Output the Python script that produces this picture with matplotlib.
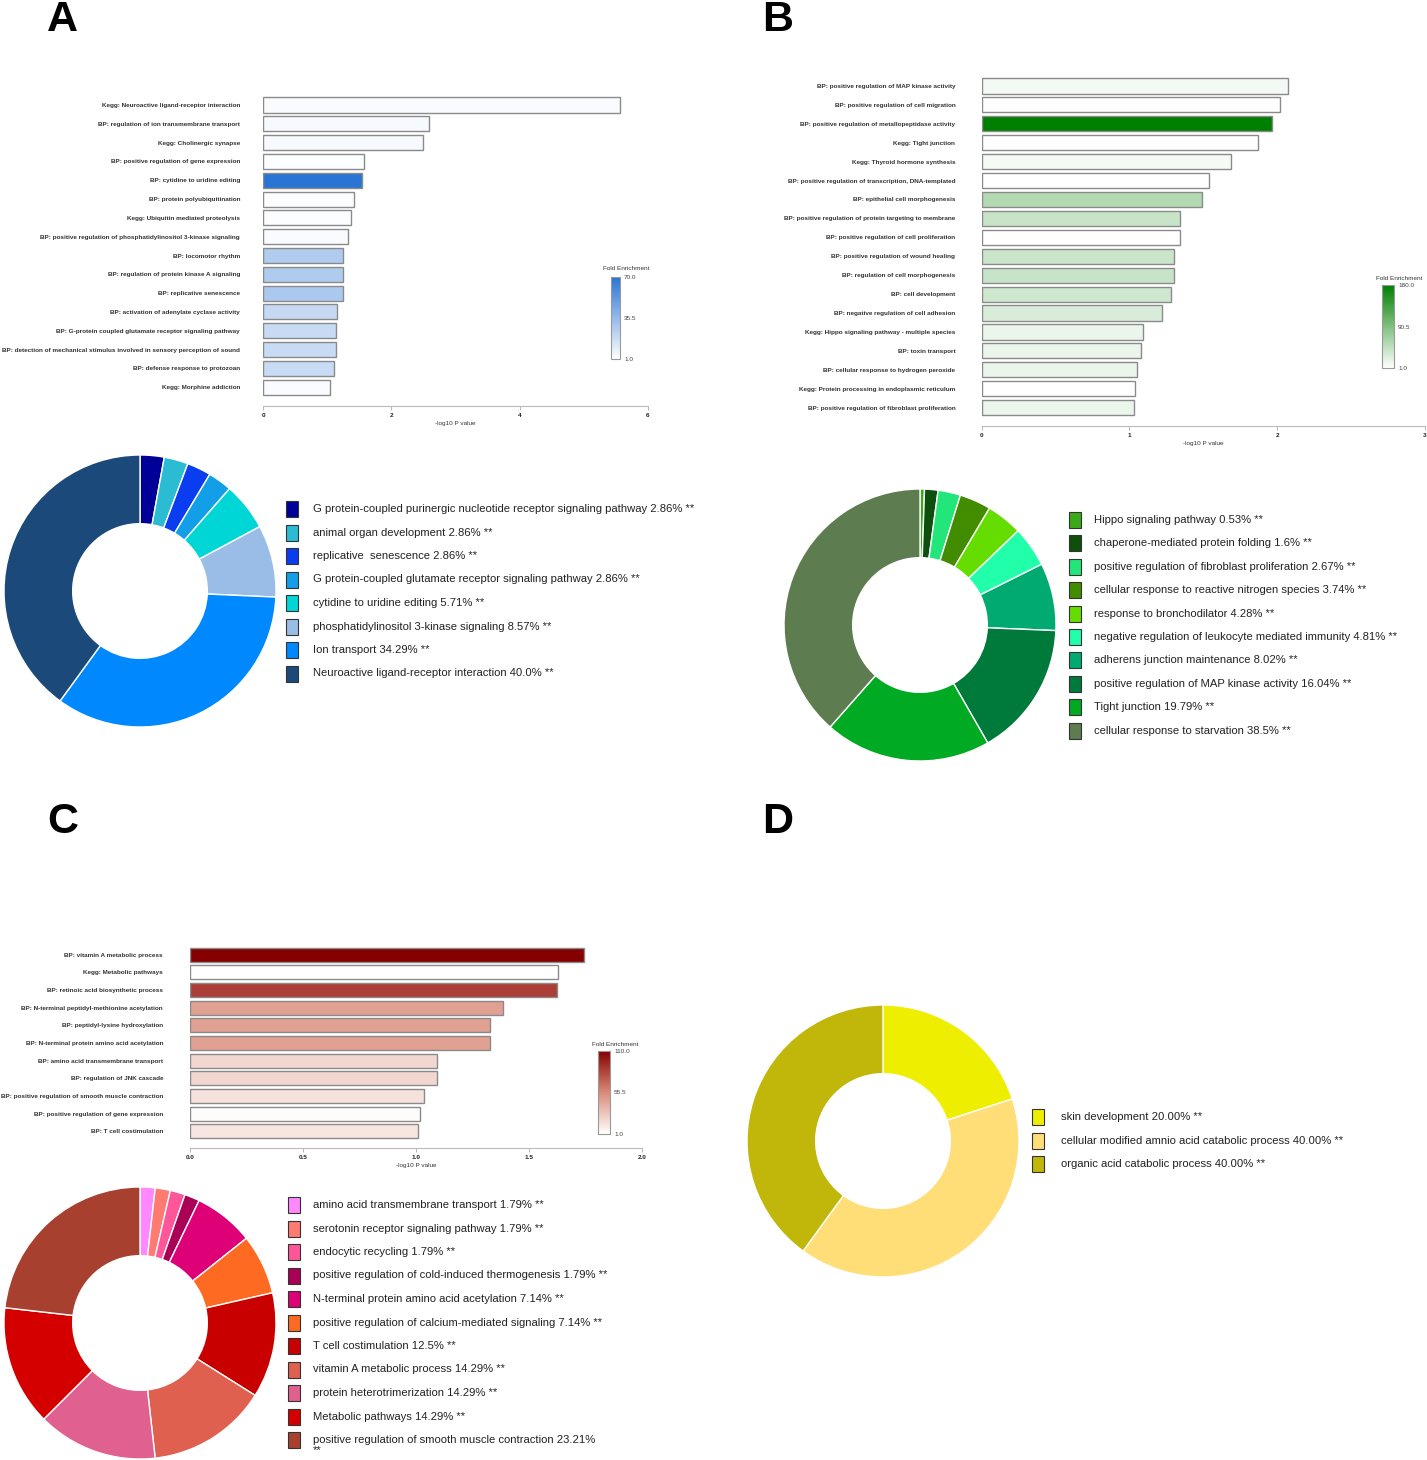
import matplotlib
matplotlib.use("Agg")
import matplotlib.pyplot as plt
from matplotlib.colors import LinearSegmentedColormap, Normalize
from matplotlib.cm import ScalarMappable
from matplotlib.patches import Rectangle

plt.rcParams["font.family"] = ["Liberation Sans", "DejaVu Sans"]

W, H = 1427, 1460

#######################################################################
# panel A data
a_terms = [
    "Kegg: Neuroactive ligand-receptor interaction",
    "BP: regulation of ion transmembrane transport",
    "Kegg: Cholinergic synapse",
    "BP: positive regulation of gene expression",
    "BP: cytidine to uridine editing",
    "BP: protein polyubiquitination",
    "Kegg: Ubiquitin mediated proteolysis",
    "BP: positive regulation of phosphatidylinositol 3-kinase signaling",
    "BP: locomotor rhythm",
    "BP: regulation of protein kinase A signaling",
    "BP: replicative senescence",
    "BP: activation of adenylate cyclase activity",
    "BP: G-protein coupled glutamate receptor signaling pathway",
    "BP: detection of mechanical stimulus involved in sensory perception of sound",
    "BP: defense response to protozoan",
    "Kegg: Morphine addiction",
]
a_logp = [5.56, 2.58, 2.49, 1.58, 1.55, 1.42, 1.37, 1.32, 1.25, 1.25, 1.25,
          1.16, 1.13, 1.13, 1.10, 1.05]
a_fold = [3, 4, 4, 2, 70, 2, 2, 3, 27, 27, 28, 20, 19, 19, 19, 3]
a_fold_max = 70.0

a_pie_names = [
    "G protein-coupled purinergic nucleotide receptor signaling pathway",
    "animal organ development",
    "replicative  senescence",
    "G protein-coupled glutamate receptor signaling pathway",
    "cytidine to uridine editing",
    "phosphatidylinositol 3-kinase signaling",
    "Ion transport",
    "Neuroactive ligand-receptor interaction",
]
a_pie_pct = ["2.86", "2.86", "2.86", "2.86", "5.71", "8.57", "34.29", "40.0"]
a_pie_colors = ["#000099", "#2bbcd4", "#0a3cf0", "#139fe8", "#00d6d6",
                "#99bde6", "#0088ff", "#1b4a7a"]

#######################################################################
# panel B data
b_terms = [
    "BP: positive regulation of MAP kinase activity",
    "BP: positive regulation of cell migration",
    "BP: positive regulation of metallopeptidase activity",
    "Kegg: Tight junction",
    "Kegg: Thyroid hormone synthesis",
    "BP: positive regulation of transcription, DNA-templated",
    "BP: epithelial cell morphogenesis",
    "BP: positive regulation of protein targeting to membrane",
    "BP: positive regulation of cell proliferation",
    "BP: positive regulation of wound healing",
    "BP: regulation of cell morphogenesis",
    "BP: cell development",
    "BP: negative regulation of cell adhesion",
    "Kegg: Hippo signaling pathway - multiple species",
    "BP: toxin transport",
    "BP: cellular response to hydrogen peroxide",
    "Kegg: Protein processing in endoplasmic reticulum",
    "BP: positive regulation of fibroblast proliferation",
]
b_logp = [2.07, 2.02, 1.965, 1.87, 1.685, 1.54, 1.49, 1.345, 1.345, 1.30,
          1.30, 1.28, 1.22, 1.09, 1.08, 1.05, 1.04, 1.03]
b_fold = [10, 3, 180, 2, 8, 2, 55, 40, 2, 38, 40, 35, 28, 15, 15, 15, 2, 15]
b_fold_max = 180.0

b_pie_names = [
    "Hippo signaling pathway",
    "chaperone-mediated protein folding",
    "positive regulation of fibroblast proliferation",
    "cellular response to reactive nitrogen species",
    "response to bronchodilator",
    "negative regulation of leukocyte mediated immunity",
    "adherens junction maintenance",
    "positive regulation of MAP kinase activity",
    "Tight junction",
    "cellular response to starvation",
]
b_pie_pct = ["0.53", "1.6", "2.67", "3.74", "4.28", "4.81", "8.02", "16.04",
             "19.79", "38.5"]
b_pie_colors = ["#3aaa18", "#0e4f0e", "#22e67a", "#428c00", "#66dd00",
                "#22ffaa", "#00aa70", "#007a3a", "#00aa22", "#5d7d50"]

#######################################################################
# panel C data
c_terms = [
    "BP: vitamin A metabolic process",
    "Kegg: Metabolic pathways",
    "BP: retinoic acid biosynthetic process",
    "BP: N-terminal peptidyl-methionine acetylation",
    "BP: peptidyl-lysine hydroxylation",
    "BP: N-terminal protein amino acid acetylation",
    "BP: amino acid transmembrane transport",
    "BP: regulation of JNK cascade",
    "BP: positive regulation of smooth muscle contraction",
    "BP: positive regulation of gene expression",
    "BP: T cell costimulation",
]
c_logp = [1.746, 1.631, 1.624, 1.385, 1.327, 1.327, 1.092, 1.092, 1.036,
          1.02, 1.011]
c_fold = [110, 1, 85, 45, 45, 45, 20, 20, 15, 3, 13]
c_fold_max = 110.0

c_pie_names = [
    "amino acid transmembrane transport",
    "serotonin receptor signaling pathway",
    "endocytic recycling",
    "positive regulation of cold-induced thermogenesis",
    "N-terminal protein amino acid acetylation",
    "positive regulation of calcium-mediated signaling",
    "T cell costimulation",
    "vitamin A metabolic process",
    "protein heterotrimerization",
    "Metabolic pathways",
    "positive regulation of smooth muscle contraction",
]
c_pie_pct = ["1.79", "1.79", "1.79", "1.79", "7.14", "7.14", "12.5", "14.29",
             "14.29", "14.29", "23.21"]
c_pie_colors = ["#ff88ff", "#ff7a70", "#ff5599", "#aa0055", "#dd0077",
                "#ff6a22", "#c80000", "#e06050", "#e06090", "#d40000",
                "#a84030"]

#######################################################################
# panel D data
d_pie_names = [
    "skin development",
    "cellular modified amnio acid catabolic process",
    "organic acid catabolic process",
]
d_pie_pct = ["20.00", "40.00", "40.00"]
d_pie_colors = ["#eeee00", "#ffdd77", "#c0b70a"]

#######################################################################
blue_cmap = LinearSegmentedColormap.from_list("b", ["#ffffff", "#2a75d3"])
green_cmap = LinearSegmentedColormap.from_list("g", ["#ffffff", "#008000"])
red_cmap = LinearSegmentedColormap.from_list("r", ["#ffffff", "#d98a78", "#850000"])

fig = plt.figure(figsize=(W / 100, H / 100), dpi=100)


def px_axes(x0, y0, x1, y1):
    return fig.add_axes([x0 / W, 1 - y1 / H, (x1 - x0) / W, (y1 - y0) / H])


def bar_panel(box, terms, logp, fold, fmax, cmap, xmax, xticks, ybottom, pad):
    ax = px_axes(*box)
    n = len(terms)
    norm = Normalize(1, fmax)
    ax.barh(range(n), logp, height=0.8, color=cmap(norm(fold)),
            edgecolor="#8a8a8a", linewidth=1)
    ax.set_xlim(0, xmax)
    ax.set_ylim(ybottom, -0.5)
    ax.set_yticks(range(n))
    ax.set_yticklabels(terms, fontsize=4.6, fontweight="bold", color="#333333")
    ax.tick_params(axis="y", length=0, pad=pad)
    ax.set_xticks(xticks)
    ax.tick_params(axis="x", length=3, width=0.6, color="#aaaaaa",
                   labelsize=4.6, labelcolor="#222222", pad=2)
    for t in ax.get_xticklabels():
        t.set_fontweight("bold")
    ax.set_xlabel("-log10 P value", fontsize=4.6, color="#333333", labelpad=2)
    for s in ["top", "right", "left"]:
        ax.spines[s].set_visible(False)
    ax.spines["bottom"].set_color("#bbbbbb")
    ax.spines["bottom"].set_linewidth(0.8)
    return ax


def colorbar_panel(box, cmap, fmax, title_xy):
    cax = px_axes(*box)
    cb = fig.colorbar(ScalarMappable(Normalize(1, fmax), cmap), cax=cax)
    ticks = [1, (1 + fmax) / 2, fmax]
    cb.set_ticks(ticks, labels=[f"{t:.1f}" for t in ticks])
    cb.outline.set_edgecolor("#999999")
    cb.outline.set_linewidth(0.8)
    cax.tick_params(length=0, labelsize=4.6, labelcolor="#444444", pad=3)
    fig.text(title_xy[0] / W, 1 - title_xy[1] / H, "Fold Enrichment",
             ha="center", va="center", fontsize=4.6, color="#333333")


def donut(center, r, pct, colors):
    cx, cy = center
    ax = px_axes(cx - r, cy - r, cx + r, cy + r)
    ax.pie([float(p) for p in pct], colors=colors, startangle=90,
           counterclock=False, radius=1,
           wedgeprops=dict(width=0.505, edgecolor="white", linewidth=1))
    ax.set_xlim(-1, 1)
    ax.set_ylim(-1, 1)
    ax.set_aspect("equal")
    ax.axis("off")


bar_panel((263, 95.6, 648, 406), a_terms, a_logp, a_fold, a_fold_max,
          blue_cmap, 6, [0, 2, 4, 6], 16.0, 16.5)
colorbar_panel((611, 277, 620, 359), blue_cmap, a_fold_max, (626, 268))

bar_panel((981.7, 76.5, 1425, 426), b_terms, b_logp, b_fold, b_fold_max,
          green_cmap, 3, [0, 1, 2, 3], 17.97, 19)
colorbar_panel((1382, 285, 1394, 368), green_cmap, b_fold_max, (1399, 278))

bar_panel((190, 945.9, 641.7, 1148.3), c_terms, c_logp, c_fold, c_fold_max,
          red_cmap, 2, [0, 0.5, 1.0, 1.5, 2.0], 10.96, 19.4)
colorbar_panel((598, 1051, 610, 1134), red_cmap, c_fold_max, (615, 1044))

donut((140, 591), 136, a_pie_pct, a_pie_colors)
donut((920, 625), 136, b_pie_pct, b_pie_colors)
donut((140, 1323), 136, c_pie_pct, c_pie_colors)
donut((883, 1141), 136, d_pie_pct, d_pie_colors)

# overlay in pixel coordinates for legends and panel letters
over = fig.add_axes([0, 0, 1, 1])
over.set_xlim(0, W)
over.set_ylim(H, 0)
over.axis("off")


def legend_block(x_box, x_text, y0, dy, names, pct, colors, wrap_last=False):
    for i, (nm, p, col) in enumerate(zip(names, pct, colors)):
        y = y0 + i * dy
        over.add_patch(Rectangle((x_box, y - 8), 12, 16, facecolor=col,
                                 edgecolor="#333333", linewidth=0.8))
        sep = "\n" if (wrap_last and i == len(names) - 1) else " "
        over.text(x_text, y - 5, f"{nm} {p}%{sep}**", ha="left", va="top",
                  fontsize=8.1, color="#222222", linespacing=1.0)


legend_block(286, 313, 509, 23.5, a_pie_names, a_pie_pct, a_pie_colors)
legend_block(1069, 1094, 520, 23.4, b_pie_names, b_pie_pct, b_pie_colors)
legend_block(288, 313, 1205, 23.5, c_pie_names, c_pie_pct, c_pie_colors,
             wrap_last=True)
legend_block(1032, 1061, 1117, 23.5, d_pie_names, d_pie_pct, d_pie_colors)

for letter, x, y in [("A", 62, 20), ("B", 778, 20), ("C", 63, 822), ("D", 778, 822)]:
    over.text(x, y, letter, ha="center", va="center", fontsize=31,
              fontweight="bold", color="black")

fig.savefig("out.png", dpi=100)
